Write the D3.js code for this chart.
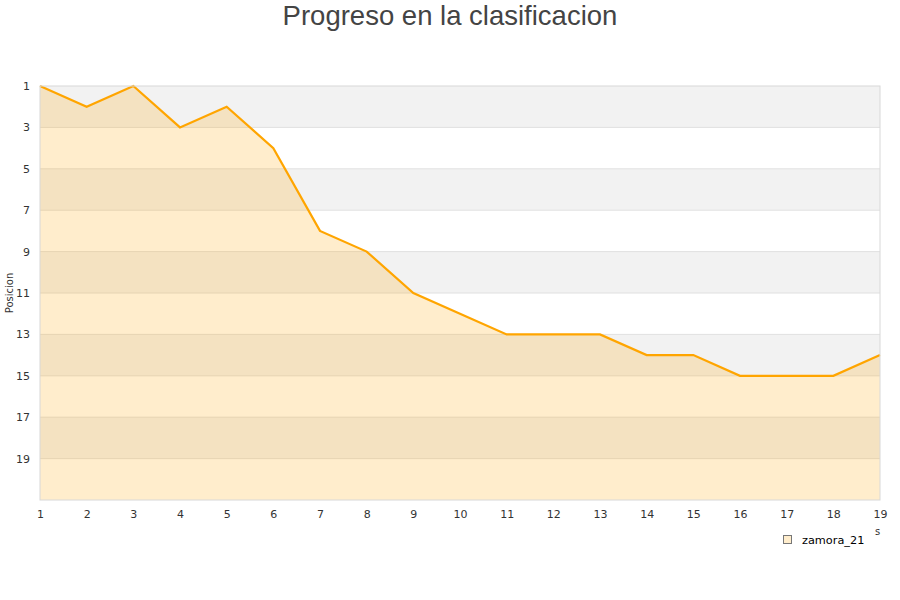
<!DOCTYPE html>
<html>
<head>
<meta charset="utf-8">
<script src="https://cdn.jsdelivr.net/npm/d3@7"></script>
<style>
body { margin: 0; background: #fff; }
text { font-family: "DejaVu Sans", sans-serif; }
</style>
</head>
<body>
<div id="chart"></div>
<script>
const jornadas = [1, 2, 3, 4, 5, 6, 7, 8, 9, 10, 11, 12, 13, 14, 15, 16, 17, 18, 19];
const posiciones = [1, 2, 1, 3, 2, 4, 8, 9, 11, 12, 13, 13, 13, 14, 14, 15, 15, 15, 14];
const yTicks = [1, 3, 5, 7, 9, 11, 13, 15, 17, 19];
const serie = "zamora_21";

const margin = {top: 86, right: 20, bottom: 100, left: 40},
    width = 900 - margin.left - margin.right,
    height = 600 - margin.top - margin.bottom;

const svg = d3.select("#chart")
    .append("svg")
    .attr("width", 900)
    .attr("height", 600);

const g = svg.append("g")
    .attr("transform", "translate(" + margin.left + "," + margin.top + ")");

const x = d3.scaleLinear().domain([1, 19]).range([0, width]);
const y = d3.scaleLinear().domain([1, 21]).range([0, height]);

// bandas alternas
g.selectAll(".band")
    .data(yTicks)
    .enter().append("rect")
    .attr("x", 0)
    .attr("width", width)
    .attr("y", d => y(d))
    .attr("height", d => y(d + 2) - y(d))
    .attr("fill", (d, i) => i % 2 == 0 ? "#f2f2f2" : "#ffffff");

// rejilla
g.selectAll(".grid")
    .data(yTicks.slice(1))
    .enter().append("line")
    .attr("x1", 0).attr("x2", width)
    .attr("y1", d => y(d)).attr("y2", d => y(d))
    .attr("stroke", "#e0e0e0")
    .attr("stroke-width", 1);

const data = jornadas.map((j, i) => ({j: j, p: posiciones[i]}));

g.append("path")
    .datum(data)
    .attr("fill", "#ffa500")
    .attr("fill-opacity", 0.2)
    .attr("d", d3.area().x(d => x(d.j)).y0(height).y1(d => y(d.p)));

g.append("path")
    .datum(data)
    .attr("fill", "none")
    .attr("stroke", "#ffa500")
    .attr("stroke-width", 2.2)
    .attr("d", d3.line().x(d => x(d.j)).y(d => y(d.p)));

// borde
g.append("rect")
    .attr("width", width).attr("height", height)
    .attr("fill", "none")
    .attr("stroke", "#d8d8d8");

// ejes
const yAxis = g.append("g")
    .call(d3.axisLeft(y).tickValues(yTicks).tickSize(0).tickPadding(10));
yAxis.select(".domain").remove();
yAxis.selectAll("text").attr("font-size", 11).attr("fill", "#333").attr("font-family", "DejaVu Sans");

const xAxis = g.append("g")
    .attr("transform", "translate(0," + height + ")")
    .call(d3.axisBottom(x).tickValues(jornadas).tickFormat(d3.format("d")).tickSize(0).tickPadding(10));
xAxis.select(".domain").remove();
xAxis.selectAll("text").attr("font-size", 11).attr("fill", "#333").attr("font-family", "DejaVu Sans");

svg.append("text")
    .attr("transform", "translate(13," + (margin.top + height / 2) + ") rotate(-90)")
    .attr("text-anchor", "middle")
    .attr("font-size", 10)
    .attr("fill", "#333")
    .text("Posicion");

svg.append("text")
    .attr("x", 875).attr("y", 535)
    .attr("font-size", 10)
    .attr("fill", "#333")
    .text("s");

svg.append("text")
    .attr("x", 450).attr("y", 25)
    .attr("text-anchor", "middle")
    .attr("font-size", 27.5)
    .attr("fill", "#444")
    .style("font-family", "'Liberation Sans', Arial, sans-serif")
    .text("Progreso en la clasificacion");

// leyenda
svg.append("rect")
    .attr("x", 783.5).attr("y", 535.5)
    .attr("width", 8).attr("height", 8)
    .attr("fill", "#ffedcc")
    .attr("stroke", "#777");
svg.append("text")
    .attr("x", 802).attr("y", 543.5)
    .attr("font-size", 11.3)
    .attr("fill", "#000")
    .text(serie);
</script>
</body>
</html>
